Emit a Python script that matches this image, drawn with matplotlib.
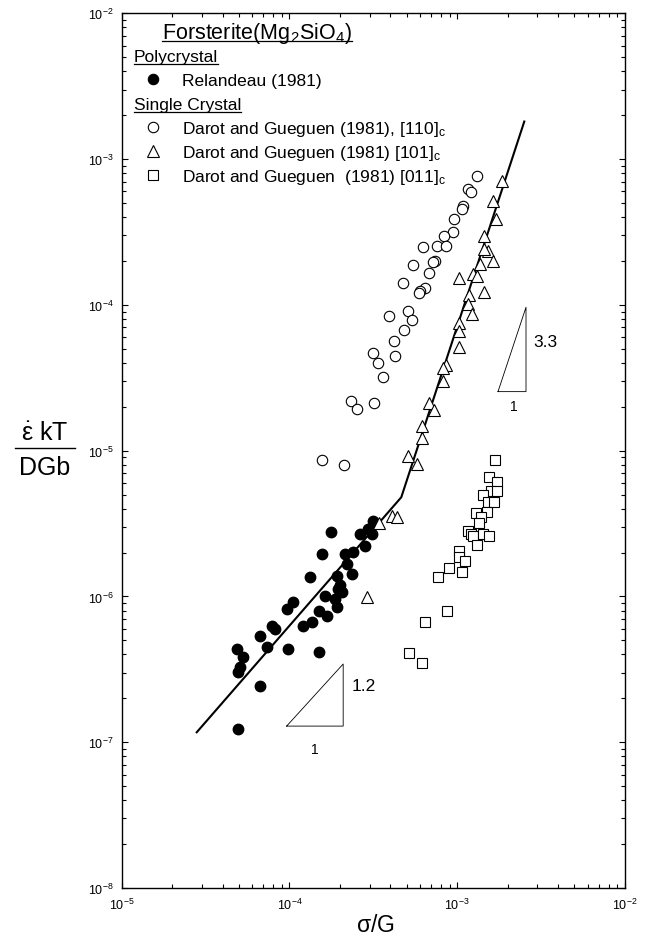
import matplotlib
matplotlib.use("Agg")
import matplotlib.pyplot as plt
from matplotlib.lines import Line2D
from matplotlib.ticker import NullFormatter

plt.rcParams["font.family"] = ["Liberation Sans", "DejaVu Sans"]
plt.rcParams["mathtext.fontset"] = "custom"
plt.rcParams["mathtext.rm"] = "Liberation Sans"
plt.rcParams["mathtext.it"] = "Liberation Sans:italic"
plt.rcParams["mathtext.bf"] = "Liberation Sans:bold"
plt.rcParams["mathtext.default"] = "regular"

# Relandeau (1981), polycrystal
poly_x = [3.15e-4, 2.95e-4, 2.63e-4, 3.09e-4, 2.82e-4, 1.78e-4, 1.56e-4, 2.14e-4,
          2.40e-4, 2.19e-4, 2.35e-4, 1.91e-4, 1.32e-4, 2.00e-4, 2.05e-4, 1.63e-4,
          1.87e-4, 1.05e-4, 9.62e-5, 1.91e-4, 1.49e-4, 1.67e-4, 1.36e-4, 1.21e-4,
          7.83e-5, 8.20e-5, 6.67e-5, 7.31e-5, 9.84e-5, 1.51e-4, 4.84e-5, 5.31e-5,
          5.07e-5, 4.95e-5, 6.67e-5, 4.95e-5, 1.95e-4]
poly_y = [3.31e-6, 2.90e-6, 2.69e-6, 2.69e-6, 2.23e-6, 2.75e-6, 1.96e-6, 1.96e-6,
          2.01e-6, 1.67e-6, 1.43e-6, 1.39e-6, 1.35e-6, 1.19e-6, 1.07e-6, 1.01e-6,
          9.62e-7, 9.12e-7, 8.20e-7, 8.43e-7, 8.00e-7, 7.38e-7, 6.65e-7, 6.31e-7,
          6.31e-7, 5.98e-7, 5.38e-7, 4.49e-7, 4.37e-7, 4.18e-7, 4.37e-7, 3.83e-7,
          3.27e-7, 3.02e-7, 2.44e-7, 1.23e-7, 1.12e-6]

# Darot and Gueguen (1981), [110]c
c110_x = [1.315e-3, 1.164e-3, 1.202e-3, 1.077e-3, 1.062e-3, 9.55e-4, 9.39e-4, 8.34e-4,
          7.60e-4, 8.57e-4, 6.27e-4, 7.36e-4, 7.13e-4, 5.47e-4, 6.78e-4, 4.73e-4,
          6.42e-4, 6.00e-4, 5.94e-4, 3.94e-4, 5.10e-4, 5.35e-4, 4.81e-4, 4.22e-4,
          4.26e-4, 3.13e-4, 3.36e-4, 3.59e-4, 2.32e-4, 2.54e-4, 3.20e-4, 1.56e-4,
          2.11e-4]
c110_y = [7.69e-4, 6.24e-4, 5.97e-4, 4.74e-4, 4.55e-4, 3.88e-4, 3.18e-4, 2.95e-4,
          2.55e-4, 2.55e-4, 2.51e-4, 2.01e-4, 1.96e-4, 1.89e-4, 1.66e-4, 1.41e-4,
          1.30e-4, 1.25e-4, 1.21e-4, 8.43e-5, 9.12e-5, 7.92e-5, 6.76e-5, 5.68e-5,
          4.49e-5, 4.68e-5, 3.97e-5, 3.18e-5, 2.20e-5, 1.93e-5, 2.11e-5, 8.67e-6,
          8.02e-6]

# Darot and Gueguen (1981), [101]c
c101_x = [1.84e-3, 1.64e-3, 1.70e-3, 1.44e-3, 1.53e-3, 1.44e-3, 1.64e-3, 1.37e-3,
          1.24e-3, 1.31e-3, 1.03e-3, 1.18e-3, 1.44e-3, 1.16e-3, 1.22e-3, 1.02e-3,
          1.02e-3, 1.02e-3, 8.53e-4, 8.18e-4, 8.18e-4, 6.78e-4, 7.26e-4, 6.14e-4,
          6.18e-4, 5.09e-4, 5.77e-4, 4.06e-4, 4.35e-4, 3.41e-4, 2.88e-4]
c101_y = [7.11e-4, 5.19e-4, 3.88e-4, 2.95e-4, 2.35e-4, 2.42e-4, 2.01e-4, 1.91e-4,
          1.63e-4, 1.59e-4, 1.52e-4, 1.16e-4, 1.22e-4, 1.01e-4, 8.67e-5, 7.52e-5,
          6.65e-5, 5.12e-5, 3.87e-5, 3.67e-5, 3.02e-5, 2.12e-5, 1.91e-5, 1.47e-5,
          1.22e-5, 9.24e-6, 8.11e-6, 3.58e-6, 3.49e-6, 3.18e-6, 9.88e-7]

# Darot and Gueguen (1981), [011]c
c011_x = [1.68e-3, 1.55e-3, 1.73e-3, 1.60e-3, 1.72e-3, 1.42e-3, 1.53e-3, 1.66e-3,
          1.50e-3, 1.29e-3, 1.38e-3, 1.35e-3, 1.16e-3, 1.20e-3, 1.24e-3, 1.43e-3,
          1.55e-3, 1.31e-3, 1.03e-3, 1.03e-3, 1.11e-3, 8.96e-4, 1.07e-3, 7.71e-4,
          8.65e-4, 6.42e-4, 5.15e-4, 6.18e-4]
c011_y = [8.63e-6, 6.57e-6, 6.12e-6, 5.32e-6, 5.32e-6, 4.99e-6, 4.43e-6, 4.43e-6,
          3.82e-6, 3.74e-6, 3.49e-6, 3.19e-6, 2.83e-6, 2.69e-6, 2.59e-6, 2.69e-6,
          2.61e-6, 2.27e-6, 2.06e-6, 1.87e-6, 1.76e-6, 1.57e-6, 1.48e-6, 1.35e-6,
          7.92e-7, 6.71e-7, 4.07e-7, 3.50e-7]

# fitted line (two branches)
fit_x = [2.80e-5, 4.64e-4, 2.51e-3]
fit_y = [1.17e-7, 4.79e-6, 1.81e-3]

# slope triangles
slope_lo_x = [9.62e-5, 2.09e-4, 2.09e-4, 9.62e-5]
slope_lo_y = [1.29e-7, 1.29e-7, 3.44e-7, 1.29e-7]
slope_hi_x = [1.75e-3, 2.57e-3, 2.57e-3, 1.75e-3]
slope_hi_y = [2.54e-5, 2.54e-5, 9.63e-5, 2.54e-5]

x_ticks = [1e-5, 1e-4, 1e-3, 1e-2]
y_ticks = [1e-8, 1e-7, 1e-6, 1e-5, 1e-4, 1e-3, 1e-2]

W, H = 645, 945
fig = plt.figure(figsize=(W / 100, H / 100), dpi=100)
ax = fig.add_axes([121.7 / W, 1 - 889 / H, (625 - 121.7) / W, (889 - 14.3) / H])
ax.set_xscale("log")
ax.set_yscale("log")
ax.set_xticks(x_ticks)
ax.set_yticks(y_ticks)
ax.set_xlim(1e-5, 1e-2)
ax.set_ylim(1e-8, 1e-2)
ax.xaxis.set_minor_formatter(NullFormatter())
ax.yaxis.set_minor_formatter(NullFormatter())

for s in ax.spines.values():
    s.set_linewidth(1.0)
ax.tick_params(which="both", direction="in", top=True, right=True, labelsize=9, width=0.8)
ax.tick_params(which="major", length=4.5, pad=6)
ax.tick_params(which="minor", length=2.8)

ax.plot(fit_x, fit_y, color="black", lw=1.5, zorder=2)
ax.plot(poly_x, poly_y, "o", ms=7.5, mfc="black", mec="black", zorder=3)
ax.plot(c110_x, c110_y, "o", ms=7.5, mfc="white", mec="black", mew=0.8, zorder=3)
ax.plot(c101_x, c101_y, "^", ms=8, mfc="white", mec="black", mew=0.8, zorder=3)
ax.plot(c011_x, c011_y, "s", ms=6.5, mfc="white", mec="black", mew=0.8, zorder=3)

ax.plot(slope_lo_x, slope_lo_y, color="black", lw=0.6)
ax.plot(slope_hi_x, slope_hi_y, color="black", lw=0.6)
ax.text(2.36e-4, 2.44e-7, "1.2", fontsize=12.5, va="center", ha="left")
ax.text(1.42e-4, 9.0e-8, "1", fontsize=10, va="center", ha="center")
ax.text(2.83e-3, 5.57e-5, "3.3", fontsize=12.5, va="center", ha="left")
ax.text(2.16e-3, 2.02e-5, "1", fontsize=10, va="center", ha="center")


def fxy(x, y):
    return x / W, 1 - y / H


# legend block, drawn by hand
headings = []
t = fig.text(*fxy(162, 39), r"Forsterite(Mg$_2$SiO$_4$)", fontsize=15.5, va="baseline")
headings.append((t, 39))
t = fig.text(*fxy(134, 62), "Polycrystal", fontsize=12.5, va="baseline")
headings.append((t, 62))
t = fig.text(*fxy(134, 110), "Single Crystal", fontsize=12.5, va="baseline")
headings.append((t, 110))

entries = [
    (86, "o", "black", "Relandeau (1981)", 7.5),
    (134, "o", "white", r"Darot and Gueguen (1981), [110]$_c$", 7.5),
    (158, "^", "white", r"Darot and Gueguen (1981) [101]$_c$", 8),
    (182, "s", "white", r"Darot and Gueguen  (1981) [011]$_c$", 6.5),
]
for base, mk, fc, label, ms in entries:
    fig.add_artist(Line2D([153 / W], [1 - (base - 6) / H], marker=mk, ms=ms,
                          mfc=fc, mec="black", mew=0.8, ls="none",
                          transform=fig.transFigure))
    fig.text(*fxy(182, base), label, fontsize=12.5, va="baseline")

fig.canvas.draw()
renderer = fig.canvas.get_renderer()
for t, base in headings:
    bb = t.get_window_extent(renderer)
    yu = 1 - (base + 2.5) / H
    fig.add_artist(Line2D([bb.x0 / W, bb.x1 / W], [yu, yu], color="black", lw=0.9,
                          transform=fig.transFigure))

# y label as a stacked fraction
fig.text(*fxy(45, 433), r"$\dot{\varepsilon}$ kT", fontsize=18, ha="center", va="center")
fig.add_artist(Line2D([15 / W, 75 / W], [1 - 449 / H, 1 - 449 / H], color="black", lw=1.0,
                      transform=fig.transFigure))
fig.text(*fxy(45, 468), "DGb", fontsize=18, ha="center", va="center")

fig.text(*fxy(375, 926), r"$\sigma$/G", fontsize=16.5, ha="center", va="center")

fig.savefig("out.png", dpi=100)
